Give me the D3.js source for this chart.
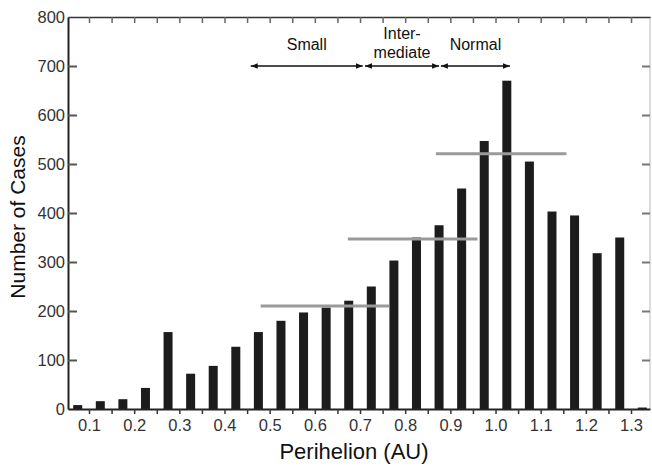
<!DOCTYPE html>
<html>
<head>
<meta charset="utf-8">
<script src="https://cdn.jsdelivr.net/npm/d3@7"></script>
<style>
  body { margin: 0; background: #fff; }
  svg { display: block; font-family: "Liberation Sans", Arial, sans-serif; }
</style>
</head>
<body>
<div id="chart"></div>
<script>
// Histogram bins (centre of each 0.05 AU bin) and counts
const binCenters = [0.075, 0.125, 0.175, 0.225, 0.275, 0.325, 0.375, 0.425, 0.475, 0.525,
  0.575, 0.625, 0.675, 0.725, 0.775, 0.825, 0.875, 0.925, 0.975, 1.025,
  1.075, 1.125, 1.175, 1.225, 1.275, 1.325];
const counts = [8, 16, 20, 43, 157, 72, 88, 127, 157, 180,
  197, 207, 221, 250, 303, 350, 375, 450, 547, 670,
  505, 403, 395, 318, 350, 3];

// grey mean lines: start, end (AU) and level
const meanStart = [0.48, 0.673, 0.868];
const meanEnd = [0.765, 0.96, 1.157];
const meanLevel = [210, 347, 521];

// size classes marked by arrows
const classStart = [0.458, 0.711, 0.879];
const classEnd = [0.706, 0.875, 1.032];
const classLabels = [["Small"], ["Inter-", "mediate"], ["Normal"]];
const arrowLevel = 700;

const xLabels = ["0.1", "0.2", "0.3", "0.4", "0.5", "0.6", "0.7", "0.8", "0.9", "1.0", "1.1", "1.2", "1.3"];
const yTicks = [0, 100, 200, 300, 400, 500, 600, 700, 800];

const W = 652, H = 467;
const plot = { left: 68, right: 650, top: 17, bottom: 409 };

const x = d3.scaleLinear().domain([0.0535, 1.342]).range([plot.left, plot.right]);
const y = d3.scaleLinear().domain([0, 800]).range([plot.bottom, plot.top]);

const svg = d3.select("#chart").append("svg")
  .attr("width", W)
  .attr("height", H);

const defs = svg.append("defs");
defs.append("marker")
  .attr("id", "ah")
  .attr("viewBox", "0 0 10 10")
  .attr("refX", 10).attr("refY", 5)
  .attr("markerWidth", 7).attr("markerHeight", 7)
  .attr("markerUnits", "userSpaceOnUse")
  .attr("orient", "auto-start-reverse")
  .append("path")
  .attr("d", "M0,1 L10,5 L0,9 Z")
  .attr("fill", "#111");

// right frame (light)
svg.append("line")
  .attr("x1", plot.right).attr("x2", plot.right)
  .attr("y1", plot.top).attr("y2", plot.bottom)
  .attr("stroke", "#bbb").attr("stroke-width", 1);

// bars
const barW = 9;
svg.selectAll(".bar")
  .data(binCenters)
  .join("rect")
  .attr("class", "bar")
  .attr("x", d => x(d) - barW / 2)
  .attr("width", barW)
  .attr("y", (d, i) => y(counts[i]))
  .attr("height", (d, i) => y(0) - y(counts[i]))
  .attr("fill", "#1c1c1c");

// grey mean lines
svg.selectAll(".mean")
  .data(meanLevel)
  .join("line")
  .attr("class", "mean")
  .attr("x1", (d, i) => x(meanStart[i]))
  .attr("x2", (d, i) => x(meanEnd[i]))
  .attr("y1", d => y(d))
  .attr("y2", d => y(d))
  .attr("stroke", "#9a9a9a")
  .attr("stroke-width", 3);

// bottom axis: ticks every 0.05, labels every 0.1
const minorTicks = d3.range(0.1, 1.34, 0.05);
const bottomAxis = svg.append("g")
  .attr("transform", `translate(0,${plot.bottom})`)
  .call(d3.axisBottom(x)
    .tickValues(minorTicks)
    .tickSize(5)
    .tickSizeOuter(0)
    .tickPadding(5)
    .tickFormat(d => {
      const k = Math.round(d * 20);
      return k % 2 === 0 ? xLabels[k / 2 - 1] : "";
    }));
bottomAxis.select(".domain").attr("stroke", "#222").attr("stroke-width", 2);
bottomAxis.selectAll(".tick line").attr("stroke", "#333").attr("stroke-width", 1.5);
bottomAxis.selectAll(".tick text")
  .style("font-size", "16.5px")
  .attr("fill", "#333");

// top frame with inward ticks
const topAxis = svg.append("g")
  .attr("transform", `translate(0,${plot.top})`)
  .call(d3.axisTop(x).tickValues(minorTicks).tickSize(-6).tickSizeOuter(0).tickFormat(""));
topAxis.select(".domain").attr("stroke", "#333").attr("stroke-width", 1.5);
topAxis.selectAll(".tick line").attr("stroke", "#666").attr("stroke-width", 1.5);

// left axis, ticks pointing inward
const leftAxis = svg.append("g")
  .attr("transform", `translate(${plot.left},0)`)
  .call(d3.axisLeft(y).tickValues(yTicks).tickSize(-9).tickSizeOuter(0).tickPadding(3));
leftAxis.select(".domain").attr("stroke", "#222").attr("stroke-width", 2);
leftAxis.selectAll(".tick line").attr("stroke", "#555").attr("stroke-width", 2);
leftAxis.selectAll(".tick")
  .filter(d => d === 0 || d === 800)
  .select("line").remove();
leftAxis.selectAll(".tick text")
  .style("font-size", "16.5px")
  .attr("fill", "#333");

// right side inward ticks
const rightAxis = svg.append("g")
  .attr("transform", `translate(${plot.right},0)`)
  .call(d3.axisRight(y).tickValues(yTicks.slice(1, -1)).tickSize(-8).tickSizeOuter(0).tickFormat(""));
rightAxis.select(".domain").remove();
rightAxis.selectAll(".tick line").attr("stroke", "#777").attr("stroke-width", 2);

// class arrows and labels
svg.selectAll(".arrow")
  .data(classStart)
  .join("line")
  .attr("class", "arrow")
  .attr("x1", d => x(d))
  .attr("x2", (d, i) => x(classEnd[i]))
  .attr("y1", y(arrowLevel))
  .attr("y2", y(arrowLevel))
  .attr("stroke", "#111")
  .attr("stroke-width", 1.5)
  .attr("marker-start", "url(#ah)")
  .attr("marker-end", "url(#ah)");

classLabels.forEach((lines, i) => {
  const cx = x((classStart[i] + classEnd[i]) / 2);
  const t = svg.append("text")
    .attr("x", cx)
    .attr("y", lines.length === 1 ? 50 : 39)
    .attr("text-anchor", "middle")
    .style("font-size", "16px")
    .attr("fill", "#111");
  lines.forEach((s, j) => {
    t.append("tspan").attr("x", cx).attr("dy", j === 0 ? 0 : 19).text(s);
  });
});

// axis titles
svg.append("text")
  .attr("transform", `translate(25,217) rotate(-90)`)
  .attr("text-anchor", "middle")
  .style("font-size", "21px")
  .attr("fill", "#111")
  .text("Number of Cases");

svg.append("text")
  .attr("x", 354)
  .attr("y", 459)
  .attr("text-anchor", "middle")
  .style("font-size", "22px")
  .attr("fill", "#111")
  .text("Perihelion (AU)");
</script>
</body>
</html>
